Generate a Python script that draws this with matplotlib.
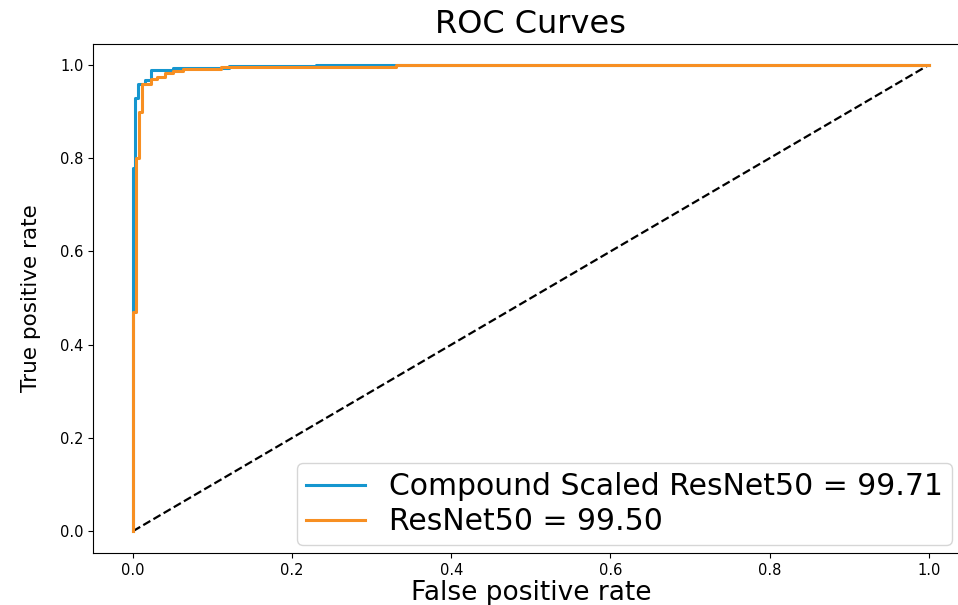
import matplotlib
matplotlib.use("Agg")
import matplotlib.pyplot as plt

# ROC points (step curves)
cs_fpr = [0, 0, 0.003, 0.003, 0.006, 0.006, 0.015, 0.015, 0.022, 0.022,
          0.05, 0.05, 0.12, 0.12, 0.23, 0.23, 1.0]
cs_tpr = [0, 0.78, 0.78, 0.93, 0.93, 0.96, 0.96, 0.968, 0.968, 0.989,
          0.989, 0.994, 0.994, 0.998, 0.998, 1.0, 1.0]

rn_fpr = [0, 0, 0.004, 0.004, 0.007, 0.007, 0.011, 0.011, 0.022, 0.022,
          0.03, 0.03, 0.04, 0.04, 0.05, 0.05, 0.063, 0.063, 0.11, 0.11,
          0.33, 0.33, 1.0]
rn_tpr = [0, 0.47, 0.47, 0.80, 0.80, 0.90, 0.90, 0.96, 0.96, 0.969,
          0.969, 0.975, 0.975, 0.982, 0.982, 0.986, 0.986, 0.991, 0.991, 0.996,
          0.996, 1.0, 1.0]

labels = ["Compound Scaled ResNet50 = 99.71", "ResNet50 = 99.50"]
ticks = [0.0, 0.2, 0.4, 0.6, 0.8, 1.0]

fig = plt.figure(figsize=(9.58, 6.05), dpi=100)
# the right edge of the axes sits just outside the picture, as in the source
ax = fig.add_axes([0.0974, 0.086, 0.9136, 0.8413])

ax.plot([0, 1], [0, 1], 'k--', lw=1.6)
ax.plot(cs_fpr, cs_tpr, color='#1596cf', lw=2.2, label=labels[0])
ax.plot(rn_fpr, rn_tpr, color='#f78f22', lw=2.2, label=labels[1])

ax.set_xlim(-0.05, 1.05)
ax.set_ylim(-0.047, 1.045)
ax.set_xticks(ticks)
ax.set_yticks(ticks)
ax.tick_params(labelsize=10.5)
ax.spines['right'].set_visible(False)

ax.set_title("ROC Curves", fontsize=23, pad=8)
ax.set_xlabel("False positive rate", fontsize=19, labelpad=2)
ax.set_ylabel("True positive rate", fontsize=15.5, labelpad=14)

ax.legend(loc='lower right', bbox_to_anchor=(952/958, 60/605),
          bbox_transform=fig.transFigure, borderaxespad=0, fontsize=21.5,
          handlelength=2.0, labelspacing=0.2, borderpad=0.3)

fig.savefig("out.png", dpi=100)
